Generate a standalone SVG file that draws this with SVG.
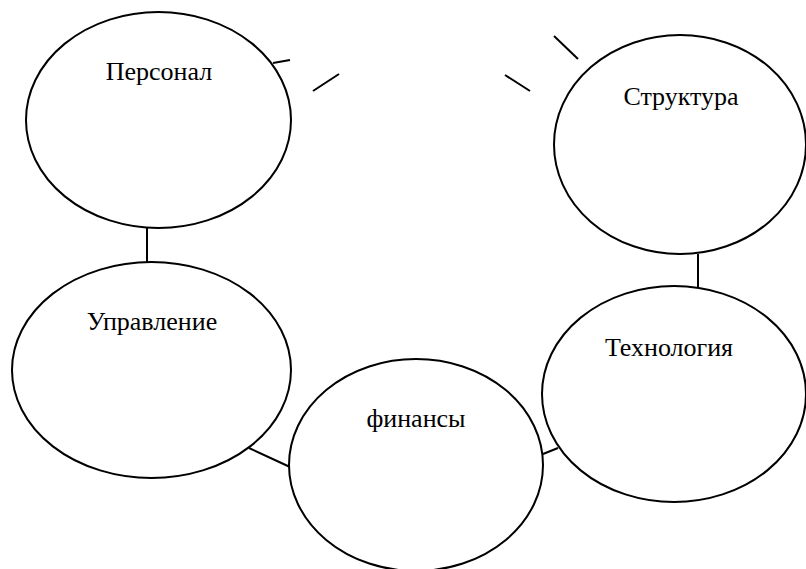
<svg xmlns="http://www.w3.org/2000/svg" width="806" height="569" viewBox="0 0 806 569">
<style>
.n{fill:#fff;stroke:#000;stroke-width:2}
.t{font-family:'Times New Roman',Tinos,'Liberation Serif','Noto Serif',FreeSerif,'DejaVu Serif',serif;font-size:26px;fill:#000;text-anchor:middle}
.c line{stroke:#000;stroke-width:2}
</style>
<rect width="806" height="569" fill="#fff"/>
<g class="c" id="connectors">
<line x1="147" y1="228" x2="147" y2="262"/>
<line x1="698" y1="254" x2="698" y2="287"/>
<line x1="249" y1="448" x2="290" y2="467"/>
<line x1="543" y1="454" x2="558" y2="448"/>
<line x1="273" y1="63" x2="290" y2="60"/>
<line x1="313" y1="91" x2="339" y2="74"/>
<line x1="554" y1="36" x2="578" y2="59"/>
<line x1="505" y1="75" x2="530" y2="91"/>
</g>
<g id="personal"><ellipse class="n" cx="158.5" cy="120" rx="132.5" ry="108"/><text class="t" x="159" y="80">Персонал</text></g>
<g id="struktura"><ellipse class="n" cx="680" cy="144.5" rx="126" ry="109.5"/><text class="t" x="681" y="105">Структура</text></g>
<g id="upravlenie"><ellipse class="n" cx="151.5" cy="370" rx="139.5" ry="108"/><text class="t" x="152" y="330">Управление</text></g>
<g id="finansy"><ellipse class="n" cx="416" cy="465" rx="127" ry="106"/><text class="t" x="416" y="427">финансы</text></g>
<g id="tehnologia"><ellipse class="n" cx="674" cy="394" rx="132" ry="108"/><text class="t" x="669" y="356">Технология</text></g>
</svg>
